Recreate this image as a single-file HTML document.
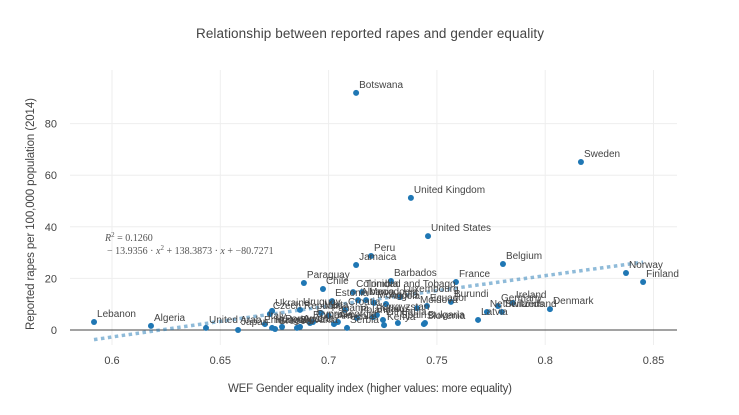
<!DOCTYPE html>
<html><head><meta charset="utf-8">
<style>
html,body{margin:0;padding:0;background:#fff;}
svg{display:block;font-family:"Liberation Sans",sans-serif;}
</style></head>
<body>
<svg id="chart" width="739" height="415" viewBox="0 0 739 415">
<text x="370" y="38" text-anchor="middle" font-size="13.5" fill="#444" textLength="348">Relationship between reported rapes and gender equality</text>
<text x="370" y="392" text-anchor="middle" font-size="11.5" fill="#444" textLength="284">WEF Gender equality index (higher values: more equality)</text>
<text transform="translate(34,214) rotate(-90)" text-anchor="middle" font-size="11.5" fill="#444" textLength="232">Reported rapes per 100,000 population (2014)</text>
<g id="grid"></g><g id="trend"></g><g id="dots"></g><g id="labels"></g>
<g font-family="'Liberation Serif',serif" font-size="10" fill="#555">
<text x="105" y="241" font-style="italic">R<tspan font-size="7" dy="-4" font-style="normal">2</tspan><tspan dy="4" font-style="normal"> = 0.1260</tspan></text>
<text x="107" y="254">− 13.9356 · <tspan font-style="italic">x</tspan><tspan font-size="7" dy="-4">2</tspan><tspan dy="4"> + 138.3873 · </tspan><tspan font-style="italic">x</tspan> + −80.7271</text>
</g>
</svg>
<script>
const countries=["Botswana","Sweden","United Kingdom","United States","Peru","Jamaica","Belgium","Norway","Finland","Paraguay","Chile","Barbados","France","Colombia","Trinidad and Tobago","Estonia","Croatia","Mongolia","Luxembourg","Angola","Moldova","Ecuador","Burundi","Germany","Netherlands","Ireland","Switzerland","Denmark","Latvia","Slovenia","Bulgaria","Lithuania","Kenya","Spain","Serbia","Poland","Uruguay","Czech Republic","Hungary","Japan","United Arab Emirates","Algeria","Lebanon","Italy","Greece","Portugal","Slovakia","Austria","Romania","Cyprus","Malta","Armenia","Georgia","Albania","Macedonia","Belarus","Kyrgyzstan","Ukraine","Panama"];
const genderIndex=[0.7127,0.8165,0.7380,0.7459,0.7196,0.7127,0.7805,0.8373,0.8452,0.6886,0.6974,0.7288,0.7588,0.7113,0.7154,0.7016,0.7076,0.7210,0.7330,0.7265,0.7408,0.7454,0.7565,0.7782,0.7731,0.7851,0.7800,0.8022,0.7690,0.7440,0.7445,0.7251,0.7256,0.7320,0.7085,0.7131,0.6868,0.6729,0.6739,0.6582,0.6434,0.6180,0.5917,0.6706,0.6753,0.6785,0.6854,0.6868,0.6914,0.6928,0.6965,0.7025,0.7043,0.7136,0.7173,0.7205,0.7223,0.6739,0.7000];
const rapeRate=[91.9,65.1,51.2,36.4,28.7,25.2,25.6,22.1,18.6,18.2,15.9,19.0,18.6,14.7,14.7,11.2,7.8,10.5,12.8,10.1,8.5,9.3,10.9,9.3,7.0,10.5,7.0,8.1,3.9,2.3,2.7,3.9,1.9,2.7,0.8,4.7,7.8,6.2,0.8,0.0,0.8,1.6,3.1,2.3,0.4,1.2,0.8,1.2,2.7,3.1,6.6,2.3,3.1,11.6,11.6,5.0,5.8,7.4,5.5];
const xTicks=[0.6,0.65,0.7,0.75,0.8,0.85];
const yTicks=[0,20,40,60,80];
const fitCoef=[-13.9356,138.3873,-80.7271];
const NS="http://www.w3.org/2000/svg";
const X=v=>112+(v-0.6)*2166;
const Y=v=>330-v*2.58;
const L=70,R=677;
function mk(tag,attrs,parent,txt){const e=document.createElementNS(NS,tag);for(const k in attrs)e.setAttribute(k,attrs[k]);if(txt!==undefined)e.textContent=txt;document.getElementById(parent).appendChild(e);return e;}
xTicks.forEach(t=>{
  const g=mk('line',{x1:X(t),x2:X(t),y1:70,y2:345,stroke:'#eee','stroke-width':1},'grid');
  
  
  const tl=mk('text',{x:X(t),y:364,'text-anchor':'middle','font-size':11,fill:'#444'},'grid',String(t));
  
  
});
yTicks.forEach(t=>{
  if(t!==0){const g=mk('line',{x1:L,x2:R,y1:Y(t),y2:Y(t),stroke:'#eee','stroke-width':1},'grid');
  
  }
  const tl=mk('text',{x:57,y:Y(t)+4,'text-anchor':'end','font-size':11,fill:'#444'},'grid',String(t));
  
  
});
const z=mk('line',{x1:L,x2:R,y1:Y(0),y2:Y(0),stroke:'#444','stroke-width':1},'grid');


// trend
const xmin=Math.min(...genderIndex),xmax=Math.max(...genderIndex);
let d='';
for(let i=0;i<=60;i++){const v=xmin+(xmax-xmin)*i/60;const f=fitCoef[0]*v*v+fitCoef[1]*v+fitCoef[2];d+=(i?'L':'M')+X(v).toFixed(1)+','+Y(f).toFixed(1);}
const tr=mk('path',{d:d,fill:'none',stroke:'rgba(31,119,180,0.5)','stroke-width':3.5,'stroke-dasharray':'3.5,3.5'},'trend');


countries.forEach((c,i)=>{
  const cx=X(genderIndex[i]),cy=Y(rapeRate[i]);
  const dot=mk('circle',{cx:cx,cy:cy,r:3,fill:'#1f77b4'},'dots');
  
  
  const lb=mk('text',{x:cx+3,y:cy-5,'font-size':10,fill:'#444'},'labels',c);
  
  
});
</script>
</body></html>
